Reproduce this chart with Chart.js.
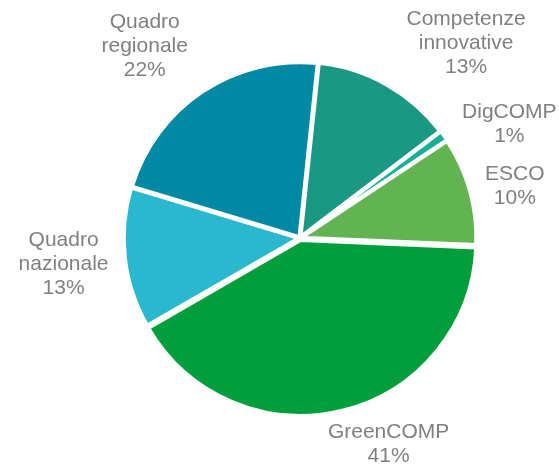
<!DOCTYPE html>
<html>
<head>
<meta charset="utf-8">
<script src="https://cdn.jsdelivr.net/npm/chart.js@4/dist/chart.umd.min.js"></script>
<style>
  html, body { margin: 0; padding: 0; background: #fff; }
  #wrap { width: 559px; height: 465px; position: relative; }
</style>
</head>
<body>
<div id="wrap"><canvas id="pieChart" width="559" height="465"></canvas></div>
<script>
// data
const categories = [
  ["Competenze", "innovative"],
  ["DigCOMP"],
  ["ESCO"],
  ["GreenCOMP"],
  ["Quadro", "nazionale"],
  ["Quadro", "regionale"]
];
const shares = [13, 1, 10, 41, 13, 22];
const sliceColors = ["#1b9883", "#17b097", "#62b352", "#009f3b", "#29b8cf", "#0089a5"];
const sliceOffsets = [4, 4, 4, 8, 4, 4];

// label nudges (Excel "best fit" placement)
const labelNudge = [[46, -2], [20, 7], [8, 4], [30, 3], [-8, 1], [-29, -8]];

const outsideLabels = {
  id: "outsideLabels",
  afterDatasetsDraw(chart) {
    const ctx = chart.ctx;
    const meta = chart.getDatasetMeta(0);
    const total = shares.reduce((a, b) => a + b, 0);
    const lineH = 24;
    ctx.save();
    ctx.font = "21px 'Liberation Sans', Arial, sans-serif";
    ctx.fillStyle = "#808080";
    ctx.textAlign = "center";
    ctx.textBaseline = "middle";
    meta.data.forEach((arc, i) => {
      const p = arc.getProps(["x", "y", "startAngle", "endAngle", "outerRadius"], true);
      const mid = (p.startAngle + p.endAngle) / 2;
      const dx = Math.cos(mid), dy = Math.sin(mid);
      const R = p.outerRadius + 10;
      const lines = categories[i].concat([Math.round(shares[i] / total * 100) + "%"]);
      let w = 0;
      lines.forEach(l => { w = Math.max(w, ctx.measureText(l).width); });
      const h = lines.length * lineH;
      const cx = p.x + dx * R + dx * w / 2 + labelNudge[i][0];
      const cy = p.y + dy * R + dy * h / 2 + labelNudge[i][1];
      lines.forEach((l, k) => {
        ctx.fillText(l, cx, cy - h / 2 + lineH / 2 + k * lineH);
      });
    });
    ctx.restore();
  }
};

const chart = new Chart("pieChart", {
  type: "pie",
  data: {
    labels: categories.map(c => c.join(" ")),
    datasets: [
      {
        data: shares,
        backgroundColor: sliceColors,
        borderColor: "#ffffff",
        borderWidth: 4,
        offset: sliceOffsets,
      },
    ],
  },
  options: {
    responsive: false,
    animation: false,
    rotation: 6,
    radius: 175,
    layout: {
      padding: { left: 70, right: 29, top: 70, bottom: 59 },
    },
    plugins: {
      legend: { display: false },
      tooltip: { enabled: false },
    },
  },
  plugins: [outsideLabels],
});
</script>
</body>
</html>
